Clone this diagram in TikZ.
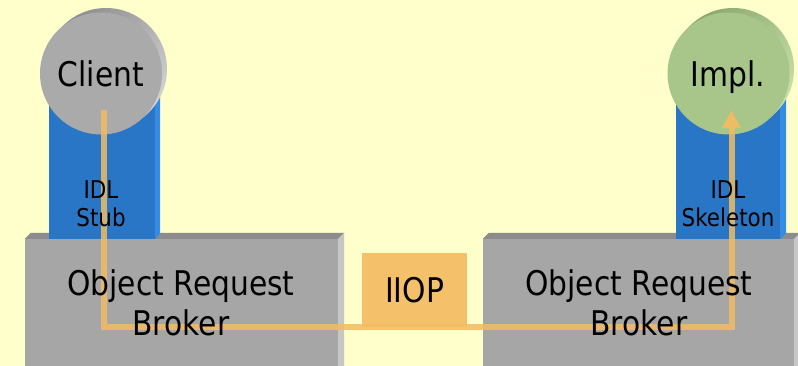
\documentclass[tikz,border=0pt]{standalone}
\usepackage{fontspec}
\setmainfont{DejaVu Sans}[FakeStretch=0.875]
\usetikzlibrary{arrows.meta}

\definecolor{bgyellow}{HTML}{FFFFCC}
\definecolor{orbfront}{HTML}{A6A6A6}
\definecolor{orbtop}{HTML}{8C8C8C}
\definecolor{orbside}{HTML}{C6C6C6}
\definecolor{idlfront}{HTML}{2A76C6}
\definecolor{idlside}{HTML}{348CE4}
\definecolor{clientface}{HTML}{AAAAAA}
\definecolor{clientrimA}{HTML}{8E8E8E}
\definecolor{clientrimB}{HTML}{D2D2D2}
\definecolor{implface}{HTML}{A8C58A}
\definecolor{implrimA}{HTML}{8BA86F}
\definecolor{implrimB}{HTML}{C8E2AA}
\definecolor{iiopfill}{HTML}{F5C06A}
\definecolor{flowcol}{HTML}{F3BC62}

\begin{document}
\begin{tikzpicture}[x=1pt,y=-1pt,
  orb/.style={rectangle,fill=orbfront,inner sep=0pt,minimum height=127pt},
  idlpillar/.style={rectangle,fill=idlfront,inner sep=0pt,minimum height=144pt},
  disk/.style={circle,inner sep=0pt,minimum size=122pt},
  bigtext/.style={font=\fontsize{34}{40}\selectfont,text=black,inner sep=0pt},
  smalltext/.style={font=\fontsize{24.5}{28}\selectfont,text=black,inner sep=0pt,align=center},
  flow/.style={draw=flowcol,line width=6pt,opacity=0.85,
    -{Triangle[width=18pt,length=18pt]}}
]
\fill[bgyellow] (0,0) rectangle (798,366);
\useasboundingbox (0,0) rectangle (798,366);

% Object Request Broker blocks with bevelled top and right side
\node[orb,minimum width=313pt] (orbL) at (181.5,302.5) {};
\fill[orbtop] (orbL.north west) -- ++(6,-6) -- ([shift={(6,-6)}]orbL.north east) -- (orbL.north east) -- cycle;
\fill[orbside] (orbL.north east) -- ++(6,-6) -- ([xshift=6pt]orbL.south east) -- (orbL.south east) -- cycle;

\node[orb,minimum width=311pt] (orbR) at (638.5,302.5) {};
\fill[orbtop] (orbR.north west) -- ++(6,-6) -- ([shift={(6,-6)}]orbR.north east) -- (orbR.north east) -- cycle;
\fill[orbside] (orbR.north east) -- ++(6,-6) -- ([xshift=6pt]orbR.south east) -- (orbR.south east) -- cycle;

% IDL pillars
\node[idlpillar,minimum width=106pt] (stub) at (102,167) {};
\fill[idlside] (stub.south east) -- ++(5,-6) -- ([xshift=5pt]stub.north east) -- (stub.north east) -- cycle;

\node[idlpillar,minimum width=104pt] (skel) at (728,167) {};
\fill[idlside] (skel.south east) -- ++(6,-6) -- ([xshift=6pt]skel.north east) -- (skel.north east) -- cycle;

% Client and implementation disks with a raised rim
\shade[top color=clientrimA,bottom color=clientrimB,shading angle=45] (106,69) circle[radius=61];
\node[disk,fill=clientface] (client) at (101,73.5) {};

\shade[top color=implrimA,bottom color=implrimB,shading angle=45] (733,69) circle[radius=61];
\node[disk,fill=implface] (impl) at (728.5,73.5) {};

% IIOP transport box
\node[rectangle,fill=iiopfill,minimum width=105pt,minimum height=74pt,inner sep=0pt,
      font=\fontsize{34}{40}\selectfont] (iiop) at (414.5,290) {IIOP};

% Request path from client to implementation
\draw[flow] ([shift={(3,36.5)}]client.center)
  -- ([xshift=3pt]client.center |- iiop.south)
  -- ([xshift=3pt]impl.center |- iiop.south)
  -- ([shift={(3,36.5)}]impl.center);

% Labels
\node[bigtext,anchor=base] (clientlbl) at (101,87) {Client};
\node[bigtext,anchor=base] (impllbl) at (728,87) {Impl.};
\node[smalltext] (stublbl) at (101,204) {IDL\\Stub};
\node[smalltext] (skellbl) at (728,204) {IDL\\Skeleton};
\node[bigtext,align=center] (orbLlbl) at (181,303) {Object Request\\Broker};
\node[bigtext,align=center] (orbRlbl) at (639,303) {Object Request\\Broker};
\end{tikzpicture}
\end{document}
